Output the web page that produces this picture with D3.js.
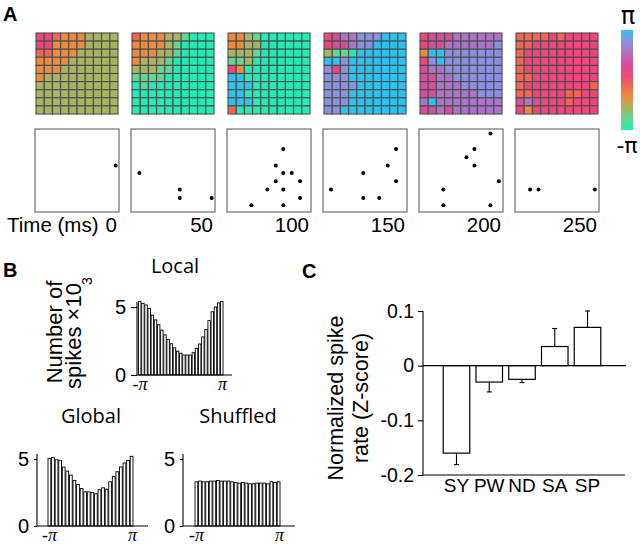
<!DOCTYPE html>
<html><head><meta charset="utf-8">
<script src="https://cdn.jsdelivr.net/npm/d3@7"></script>
<style>body{margin:0;background:#fff}svg{display:block}</style>
</head><body>
<script>
// ---------- DATA ----------
const frameTimes = [0, 50, 100, 150, 200, 250];
// phase level per electrode (0 = -pi ... 9 = +pi), rows top->bottom
const phaseGrids = [
 ["5543332222","5533332222","4433322222","3333222222","3332222222","3222222222","2222222222","2222222222","2222222222","2222222222"],
 ["4333221000","3333210000","3332210000","3222100000","2221100000","1111000000","0100000000","0000000000","0000000000","0000000000"],
 ["3321000000","3322000000","2221000000","1120000000","5300000000","9900000000","9990000000","9900000000","9990000000","4000000000"],
 ["5677888999","5667889999","2110999999","9989999999","8589999999","8889999999","8888999999","8889999999","8889999999","8899999999"],
 ["5666777777","5667777778","3998888888","5898888888","6778888888","6677888888","6677788888","6677777888","7977777777","6676777777"],
 ["4444545555","4455555555","4555555555","4555555555","4555555555","4455555555","4555555554","4455554455","6765554555","5355555555"]
];
// spike positions [column, row] on the 10x10 array
const spikeFrames = [
 [[9.1,3.9]],
 [[0.5,4.8],[5.3,6.8],[5.3,7.8],[9.1,7.8]],
 [[6.2,1.9],[5.3,3.9],[6.2,4.8],[7.2,4.8],[5.3,5.8],[8.2,5.8],[4.3,6.8],[6.2,6.8],[8.2,7.8],[2.4,8.7],[6.2,8.7]],
 [[8.2,1.9],[7.2,3.9],[4.3,4.8],[8.2,5.8],[0.45,6.8],[4.3,7.8],[6.2,7.8]],
 [[8.0,0.05],[6.1,1.9],[5.15,2.9],[6.1,3.9],[9.0,5.8],[2.4,6.8],[2.4,8.7],[8.0,8.7]],
 [[1.3,6.8],[2.3,6.8],[9.0,6.8]]
];
const phaseColors = ["#22ecb4","#62d692","#a9b463","#ee8a3c","#f26552","#f0457c","#d84c9c","#ac74c8","#8a8fe0","#2cc2f0"];

const localCounts = [5.4,5.27,5.15,4.9,4.4,4.05,3.7,3.3,2.95,2.6,2.3,2.0,1.75,1.6,1.47,1.47,1.47,1.64,1.96,2.28,2.8,3.35,4.0,4.65,5.0,5.3,5.4];
const globalCounts = [5.05,5.1,4.95,4.9,4.4,4.1,3.8,3.4,3.1,2.8,2.55,2.55,2.5,2.4,2.7,2.85,2.75,3.3,3.7,4.05,4.4,4.7,4.9,5.2];
const shuffledCounts = [3.3,3.35,3.3,3.3,3.35,3.35,3.4,3.35,3.35,3.35,3.3,3.25,3.2,3.25,3.2,3.15,3.15,3.2,3.2,3.2,3.15,3.3,3.25,3.3];
const histTicks = [0, 5];

const categories = ["SY","PW","ND","SA","SP"];
const rateValues = [-0.16,-0.03,-0.025,0.035,0.07];
const rateErrors = [0.021,0.018,0.006,0.033,0.03];
const rateTicks = [0.1, 0, -0.1, -0.2];

// ---------- DRAW ----------
const W = 640, H = 545;
const svg = d3.select("body").append("svg").attr("width", W).attr("height", H);
const SANS = "'Liberation Sans', Arial, Helvetica, sans-serif";
const HUM = "'Open Sans', 'Noto Sans', sans-serif";
const PI = Math.PI;

const phaseScale = d3.scaleLinear()
  .domain(d3.range(10).map(d => -PI + d * 2 * PI / 9))
  .range(phaseColors);

// panel letters
[["A",3,21],["B",3,277],["C",302,278]].forEach(([t,x,y]) =>
  svg.append("text").attr("x",x).attr("y",y).text(t)
    .attr("font-family",SANS).attr("font-weight","bold").attr("font-size",20));

// ---- Panel A ----
phaseGrids.forEach((grid, i) => {
  const gx = 36 + 96 * i, gy = 33;
  const cx = d3.scaleBand().domain(d3.range(10)).range([gx, gx + 82]);
  const cy = d3.scaleBand().domain(d3.range(10)).range([gy, gy + 81]);
  const cells = [];
  grid.forEach((row, r) => row.split("").forEach((ch, c) => cells.push({r, c, v: -PI + (+ch) * 2 * PI / 9})));
  const g = svg.append("g");
  g.selectAll("rect").data(cells).join("rect")
    .attr("x", d => cx(d.c)).attr("y", d => cy(d.r))
    .attr("width", cx.bandwidth()).attr("height", cy.bandwidth())
    .attr("fill", d => phaseScale(d.v))
    .attr("stroke", "#4d4d4d").attr("stroke-width", 1.1);

  // raster box
  const bx = 35 + 96 * i, by = 129, bw = 84, bh = 83;
  const sx = d3.scaleLinear().domain([-0.5, 9.5]).range([bx, bx + bw]);
  const sy = d3.scaleLinear().domain([-0.5, 9.5]).range([by, by + bh]);
  svg.append("rect").attr("x", bx).attr("y", by).attr("width", bw).attr("height", bh)
    .attr("fill", "none").attr("stroke", "#6e6e6e").attr("stroke-width", 1.2);
  svg.append("g").selectAll("circle").data(spikeFrames[i]).join("circle")
    .attr("cx", d => sx(d[0])).attr("cy", d => sy(d[1])).attr("r", 2).attr("fill", "#000");
  svg.append("text").attr("x", bx + bw - 2).attr("y", 232).attr("text-anchor", "end")
    .attr("font-family", SANS).attr("font-size", 20.5).text(frameTimes[i]);
});
svg.append("text").attr("x", 7).attr("y", 232).attr("font-family", SANS).attr("font-size", 20.5).text("Time (ms)");

// colorbar
const defs = svg.append("defs");
const grad = defs.append("linearGradient").attr("id", "cbar").attr("x1", 0).attr("x2", 0).attr("y1", 1).attr("y2", 0);
d3.range(0, 1.0001, 0.05).forEach(t => grad.append("stop").attr("offset", t).attr("stop-color", phaseScale(-PI + t * 2 * PI)));
const cbY = d3.scaleLinear().domain([-PI, PI]).range([130, 30]);
svg.append("rect").attr("x", 621).attr("y", cbY(PI)).attr("width", 12).attr("height", cbY(-PI) - cbY(PI)).attr("fill", "url(#cbar)");
svg.append("text").attr("x", 628).attr("y", 24).attr("text-anchor", "middle").attr("font-family", "'DejaVu Sans', sans-serif").attr("font-size", 24).text("π");
svg.append("text").attr("x", 627).attr("y", 153).attr("text-anchor", "middle").attr("font-family", "'DejaVu Sans', sans-serif").attr("font-size", 22).text("-π");

// ---- Panel B ----
function hist(counts, o) {
  const x = d3.scaleBand().domain(d3.range(counts.length)).range([o.b0, o.b1]).paddingInner(0.22);
  const y = d3.scaleLinear().domain([0, 5]).range([o.zero, o.five]);
  const g = svg.append("g");
  g.selectAll("rect").data(counts).join("rect")
    .attr("x", (d, i) => x(i)).attr("y", d => y(d))
    .attr("width", x.bandwidth()).attr("height", d => y(0) - y(d))
    .attr("fill", "#fff").attr("stroke", "#000").attr("stroke-width", 0.9);
  // y axis
  const ya = svg.append("g").attr("transform", `translate(${o.ax},0)`)
    .call(d3.axisLeft(y).tickValues(histTicks).tickSize(o.tick).tickPadding(o.pad).tickFormat(d3.format("d")));
  ya.select(".domain").attr("d", `M0,${y(0)}V${o.five - 5}`).attr("stroke-width", 1.1);
  ya.selectAll("text").attr("font-family", SANS).attr("font-size", 20).attr("fill", "#000");
  ya.selectAll("line").attr("stroke-width", 1.1);
  // x axis
  const xp = d3.scaleLinear().domain([-PI, PI]).range([o.b0 + 1, o.b1 - 1]);
  const xa = svg.append("g").attr("transform", `translate(0,${y(0)})`)
    .call(d3.axisBottom(xp).tickValues([-PI, PI]).tickSize(0).tickPadding(2).tickFormat(d => d < 0 ? "-π" : "π"));
  xa.select(".domain").attr("d", `M${o.ax},0H${o.xend}`).attr("stroke-width", 1.1);
  xa.selectAll("text").attr("font-family", "'Liberation Serif', 'DejaVu Serif', serif").attr("font-style", "italic").attr("font-size", 18).attr("fill", "#000");
  svg.append("text").attr("x", o.tx).attr("y", o.ty).attr("text-anchor", "middle")
    .attr("font-family", HUM).attr("font-size", 20).text(o.title);
}
hist(localCounts, {b0: 138.5, b1: 223, zero: 375, five: 307, ax: 137, xend: 232, tick: 6, pad: 5, tx: 175, ty: 273, title: "Local"});
hist(globalCounts, {b0: 48, b1: 133, zero: 526, five: 459, ax: 37, xend: 148, tick: 3, pad: 5, tx: 91, ty: 423, title: "Global"});
hist(shuffledCounts, {b0: 195, b1: 280, zero: 526, five: 459, ax: 183, xend: 295, tick: 3, pad: 5, tx: 238, ty: 423, title: "Shuffled"});

// y title B
const yb = svg.append("text").attr("transform", "translate(62,332) rotate(-90)").attr("text-anchor", "middle")
  .attr("font-family", SANS).attr("font-size", 22);
yb.append("tspan").attr("x", 0).attr("y", 0).text("Number of");
yb.append("tspan").attr("x", -4).attr("y", 19).text("spikes ×10");
svg.append("text").attr("transform", "translate(92,285) rotate(-90)").attr("font-family", SANS).attr("font-size", 14).text("3");

// ---- Panel C ----
const cy = d3.scaleLinear().domain([-0.2, 0.1]).range([475, 311]);
const cx = d3.scaleBand().domain(categories).range([437, 607]).padding(0.19);
const rows = categories.map((c, i) => ({c, v: rateValues[i], e: rateErrors[i]}));
const gC = svg.append("g");
// error bars
gC.selectAll("line.err").data(rows).join("line").attr("class", "err")
  .attr("x1", d => cx(d.c) + cx.bandwidth() / 2).attr("x2", d => cx(d.c) + cx.bandwidth() / 2)
  .attr("y1", d => cy(d.v)).attr("y2", d => cy(d.v + Math.sign(d.v) * d.e))
  .attr("stroke", "#000").attr("stroke-width", 1.1);
gC.selectAll("line.cap").data(rows).join("line").attr("class", "cap")
  .attr("x1", d => cx(d.c) + cx.bandwidth() / 2 - 2.5).attr("x2", d => cx(d.c) + cx.bandwidth() / 2 + 2.5)
  .attr("y1", d => cy(d.v + Math.sign(d.v) * d.e)).attr("y2", d => cy(d.v + Math.sign(d.v) * d.e))
  .attr("stroke", "#000").attr("stroke-width", 1.1);
gC.selectAll("rect").data(rows).join("rect")
  .attr("x", d => cx(d.c)).attr("width", cx.bandwidth())
  .attr("y", d => cy(Math.max(0, d.v))).attr("height", d => Math.abs(cy(d.v) - cy(0)))
  .attr("fill", "#fff").attr("stroke", "#000").attr("stroke-width", 1.2);
// zero line & bottom line
svg.append("line").attr("x1", 423).attr("x2", 626).attr("y1", cy(0)).attr("y2", cy(0)).attr("stroke", "#000").attr("stroke-width", 1.1);
const xaC = svg.append("g").attr("transform", `translate(0,${cy(-0.2)})`)
  .call(d3.axisBottom(cx).tickSize(0).tickPadding(4));
xaC.select(".domain").attr("d", "M423,0H625").attr("stroke-width", 1.1);
xaC.selectAll("text").attr("font-family", SANS).attr("font-size", 19).attr("fill", "#000");
const yaC = svg.append("g").attr("transform", "translate(423,0)")
  .call(d3.axisLeft(cy).tickValues(rateTicks).tickSize(5).tickPadding(4).tickFormat(d => d === 0 ? "0" : (d < 0 ? "-" : "") + Math.abs(d).toFixed(1)));
yaC.select(".domain").attr("d", `M0,${cy(0.1)}V${cy(-0.2)}`).attr("stroke-width", 1.1);
yaC.selectAll("line").attr("stroke-width", 1.1);
yaC.selectAll("text").attr("font-family", SANS).attr("font-size", 19.5).attr("fill", "#000");
const yc = svg.append("text").attr("transform", "translate(343,398) rotate(-90)").attr("text-anchor", "middle")
  .attr("font-family", SANS).attr("font-size", 21.5);
yc.append("tspan").attr("x", 0).attr("y", 0).text("Normalized spike");
yc.append("tspan").attr("x", 0).attr("y", 25).text("rate (Z-score)");
</script>
</body></html>
